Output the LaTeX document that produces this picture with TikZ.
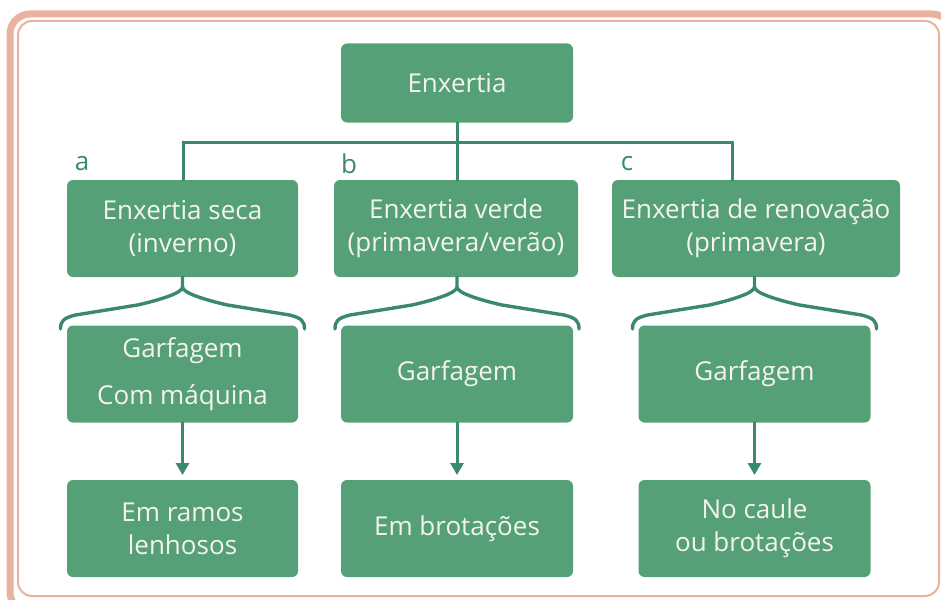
\documentclass[tikz,border=0pt]{standalone}
\usepackage{fontspec}
\setmainfont{Open Sans}
\usetikzlibrary{arrows.meta,calc,positioning}

\definecolor{boxgreen}{HTML}{55A076}
\definecolor{linegreen}{HTML}{3A896C}
\definecolor{framepink}{HTML}{E9B29E}
\definecolor{boxtext}{HTML}{F4F4EC}

\begin{document}
\begin{tikzpicture}[x=0.5pt, y=-0.5pt, line cap=round, line join=round,
    font=\fontsize{13}{16.5}\selectfont]

    \tikzset{
        stage/.style={draw=none, fill=boxgreen, rounded corners=3pt, text=boxtext,
            align=center, inner sep=0pt, outer sep=0pt,
            minimum width=115.5pt, minimum height=48.5pt},
        link/.style={draw=linegreen, line width=1.5pt},
        brace/.style={draw=linegreen, line width=1.7pt},
        step arrow/.style={link, -{Triangle[length=6pt,width=6.5pt]}, shorten >=2.5pt},
        tag/.style={text=linegreen, inner sep=0pt}
    }

    \newcommand{\branch}[1]{%
        \draw[brace] (#1) -- ++(0,10)
            .. controls ++(0,6) and ++(22,-5) .. ++(-45,18)
            -- ++(-62,10)
            .. controls ++(-12,3) and ++(0,-8) .. ++(-15,14);
        \draw[brace] ($(#1)+(0,10)$)
            .. controls ++(0,6) and ++(-22,-5) .. ++(45,18)
            -- ++(62,10)
            .. controls ++(12,3) and ++(0,-8) .. ++(15,14);
    }

    \useasboundingbox (0,0) rectangle (941,599);

    % Frame
    \draw[framepink, line width=3.5pt, rounded corners=10pt] (10,14) rectangle (952,612);
    \draw[framepink, line width=1pt, rounded corners=7pt] (18,21) rectangle (939,596);

    % Top
    \node[stage, minimum width=116pt, minimum height=39.5pt] (top) at (457,83) {Enxertia};

    % First level
    \node[stage] (a1) at (182.5,228.5) {Enxertia seca\\(inverno)};
    \node[stage, minimum width=122pt] (b1) at (456,228.5) {Enxertia verde\\(primavera/verão)};
    \node[stage, minimum width=144pt] (c1) at (756,228.5) {Enxertia de renovação\\(primavera)};

    \node[tag] (la) at (82,164) {a};
    \node[tag] (lb) at (349,164) {b};
    \node[tag] (lc) at (627,164) {c};

    % Method
    \node[stage] (a2) at (182.5,374) {Garfagem\\[7pt]Com máquina};
    \node[stage, minimum width=116pt] (b2) at (457,374) {Garfagem};
    \node[stage, minimum width=116pt] (c2) at (754.5,374) {Garfagem};

    % Where
    \node[stage] (a3) at (182.5,528.5) {Em ramos\\lenhosos};
    \node[stage, minimum width=116pt] (b3) at (457,528.5) {Em brotações};
    \node[stage, minimum width=116pt] (c3) at (754.5,528.5) {No caule\\ou brotações};

    % Tree lines
    \coordinate (ja) at (183,142);
    \coordinate (jc) at (732,142);
    \draw[link] (top.south) -- (b1.north -| top.south);
    \draw[link] (ja) -- (jc);
    \draw[link] (ja) -- (ja |- a1.north);
    \draw[link] (jc) -- (jc |- c1.north);

    % Braces
    \coordinate (ba) at (a1.south -| a2.north);
    \coordinate (bb) at (b1.south -| b2.north);
    \coordinate (bc) at (c1.south -| c2.north);
    \branch{ba}
    \branch{bb}
    \branch{bc}

    % Arrows
    \draw[step arrow] (a2) -- (a3);
    \draw[step arrow] (b2) -- (b3);
    \draw[step arrow] (c2) -- (c3);
\end{tikzpicture}
\end{document}
